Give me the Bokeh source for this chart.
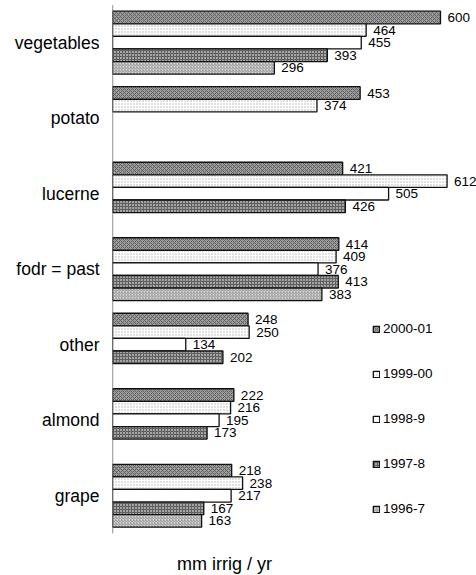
from bokeh.plotting import figure
from bokeh.models import ColumnDataSource, Range1d, FixedTicker, Legend, LegendItem, Label
from bokeh.embed import file_html
from bokeh.resources import INLINE
from bokeh.core.properties import value

categories = ["vegetables", "potato", "lucerne", "fodr = past", "other", "almond", "grape"]
series_names = ["2000-01", "1999-00", "1998-9", "1997-8", "1996-7"]
v2000_01 = [600, 453, 421, 414, 248, 222, 218]
v1999_00 = [464, 374, 612, 409, 250, 216, 238]
v1998_9 = [455, None, 505, 376, 134, 195, 217]
v1997_8 = [393, None, 426, 413, 202, 173, 167]
v1996_7 = [296, None, None, 383, None, None, 163]
all_series = [v2000_01, v1999_00, v1998_9, v1997_8, v1996_7]

styles = [
    dict(fill_color="#9a9a9a", hatch_pattern="diagonal_cross", hatch_color="#626262", hatch_scale=4, hatch_weight=1),
    dict(fill_color="#ffffff", hatch_pattern="dot", hatch_color="#b0b0b0", hatch_scale=3, hatch_weight=1),
    dict(fill_color="#ffffff"),
    dict(fill_color="#a4a4a4", hatch_pattern="cross", hatch_color="#606060", hatch_scale=3, hatch_weight=1),
    dict(fill_color="#d6d6d6", hatch_pattern="right_diagonal_line", hatch_color="#999999", hatch_scale=3, hatch_weight=1),
]

FONT = "Liberation Sans"
slots = len(series_names) + 1          # 5 bars + 1 gap per category
px_per_unit = 12.586
axis_top = 4.4
fig_w, fig_h = 476, 575
left_border = 112
frame_w = fig_w - left_border
x_px_per_val = 0.5467

y_top = (0 - axis_top) / px_per_unit
y_bot = (fig_h - axis_top) / px_per_unit

p = figure(width=fig_w, height=fig_h, output_backend="svg", toolbar_location=None,
           x_range=Range1d(0, frame_w / x_px_per_val), y_range=Range1d(y_bot, y_top),
           x_axis_location=None, min_border_left=left_border, min_border_right=0,
           min_border_top=0, min_border_bottom=0)
p.outline_line_color = None
p.xgrid.visible = False
p.ygrid.visible = False
p.background_fill_color = "white"
p.border_fill_color = "white"

items = []
for si, (name, vals, st) in enumerate(zip(series_names, all_series, styles)):
    ys, vs, labs = [], [], []
    for ci, v in enumerate(vals):
        if v is None:
            continue
        ys.append(ci * slots + si + 1)
        vs.append(v)
        labs.append(str(v))
    src = ColumnDataSource(dict(y=ys, v=vs, lab=labs))
    r = p.hbar(y="y", left=0, right="v", height=1, source=src,
               line_color="#111111", line_width=1.3, **st)
    p.text(x="v", y="y", text="lab", source=src, x_offset=7,
           text_font=value(FONT), text_font_size="13.5px", text_color="black",
           text_baseline="middle", text_align="left")
    items.append(LegendItem(label=name, renderers=[r]))

# axis line
n_cat = len(categories)
p.segment(x0=[0], y0=[0], x1=[0], y1=[n_cat * slots], line_color="#555555", line_width=1.3)

yax = p.yaxis[0]
yax.ticker = FixedTicker(ticks=[ci * slots + slots / 2 for ci in range(n_cat)])
yax.major_label_overrides = {ci * slots + slots / 2: c for ci, c in enumerate(categories)}
yax.axis_line_color = None
yax.major_tick_line_color = None
yax.minor_tick_line_color = None
yax.major_tick_out = 0
yax.major_tick_in = 0
yax.major_label_standoff = 13
yax.major_label_text_font = FONT
yax.major_label_text_font_size = "17.5px"
yax.major_label_text_color = "black"

legend = Legend(items=items, location=(260, 59), orientation="vertical",
                glyph_width=8, glyph_height=8, label_height=14, label_width=40,
                spacing=30, padding=0, margin=0, label_standoff=3,
                label_text_font=FONT, label_text_font_size="13.5px",
                label_text_color="black", border_line_color=None,
                background_fill_alpha=0)
p.add_layout(legend)

title = Label(x=(224 - left_border) / x_px_per_val, y=(563 - axis_top) / px_per_unit,
              text="mm irrig / yr", text_font=FONT, text_font_size="18px",
              text_align="center", text_baseline="middle", text_color="black")
p.add_layout(title)

open("out.html", "w").write(file_html(p, INLINE))
